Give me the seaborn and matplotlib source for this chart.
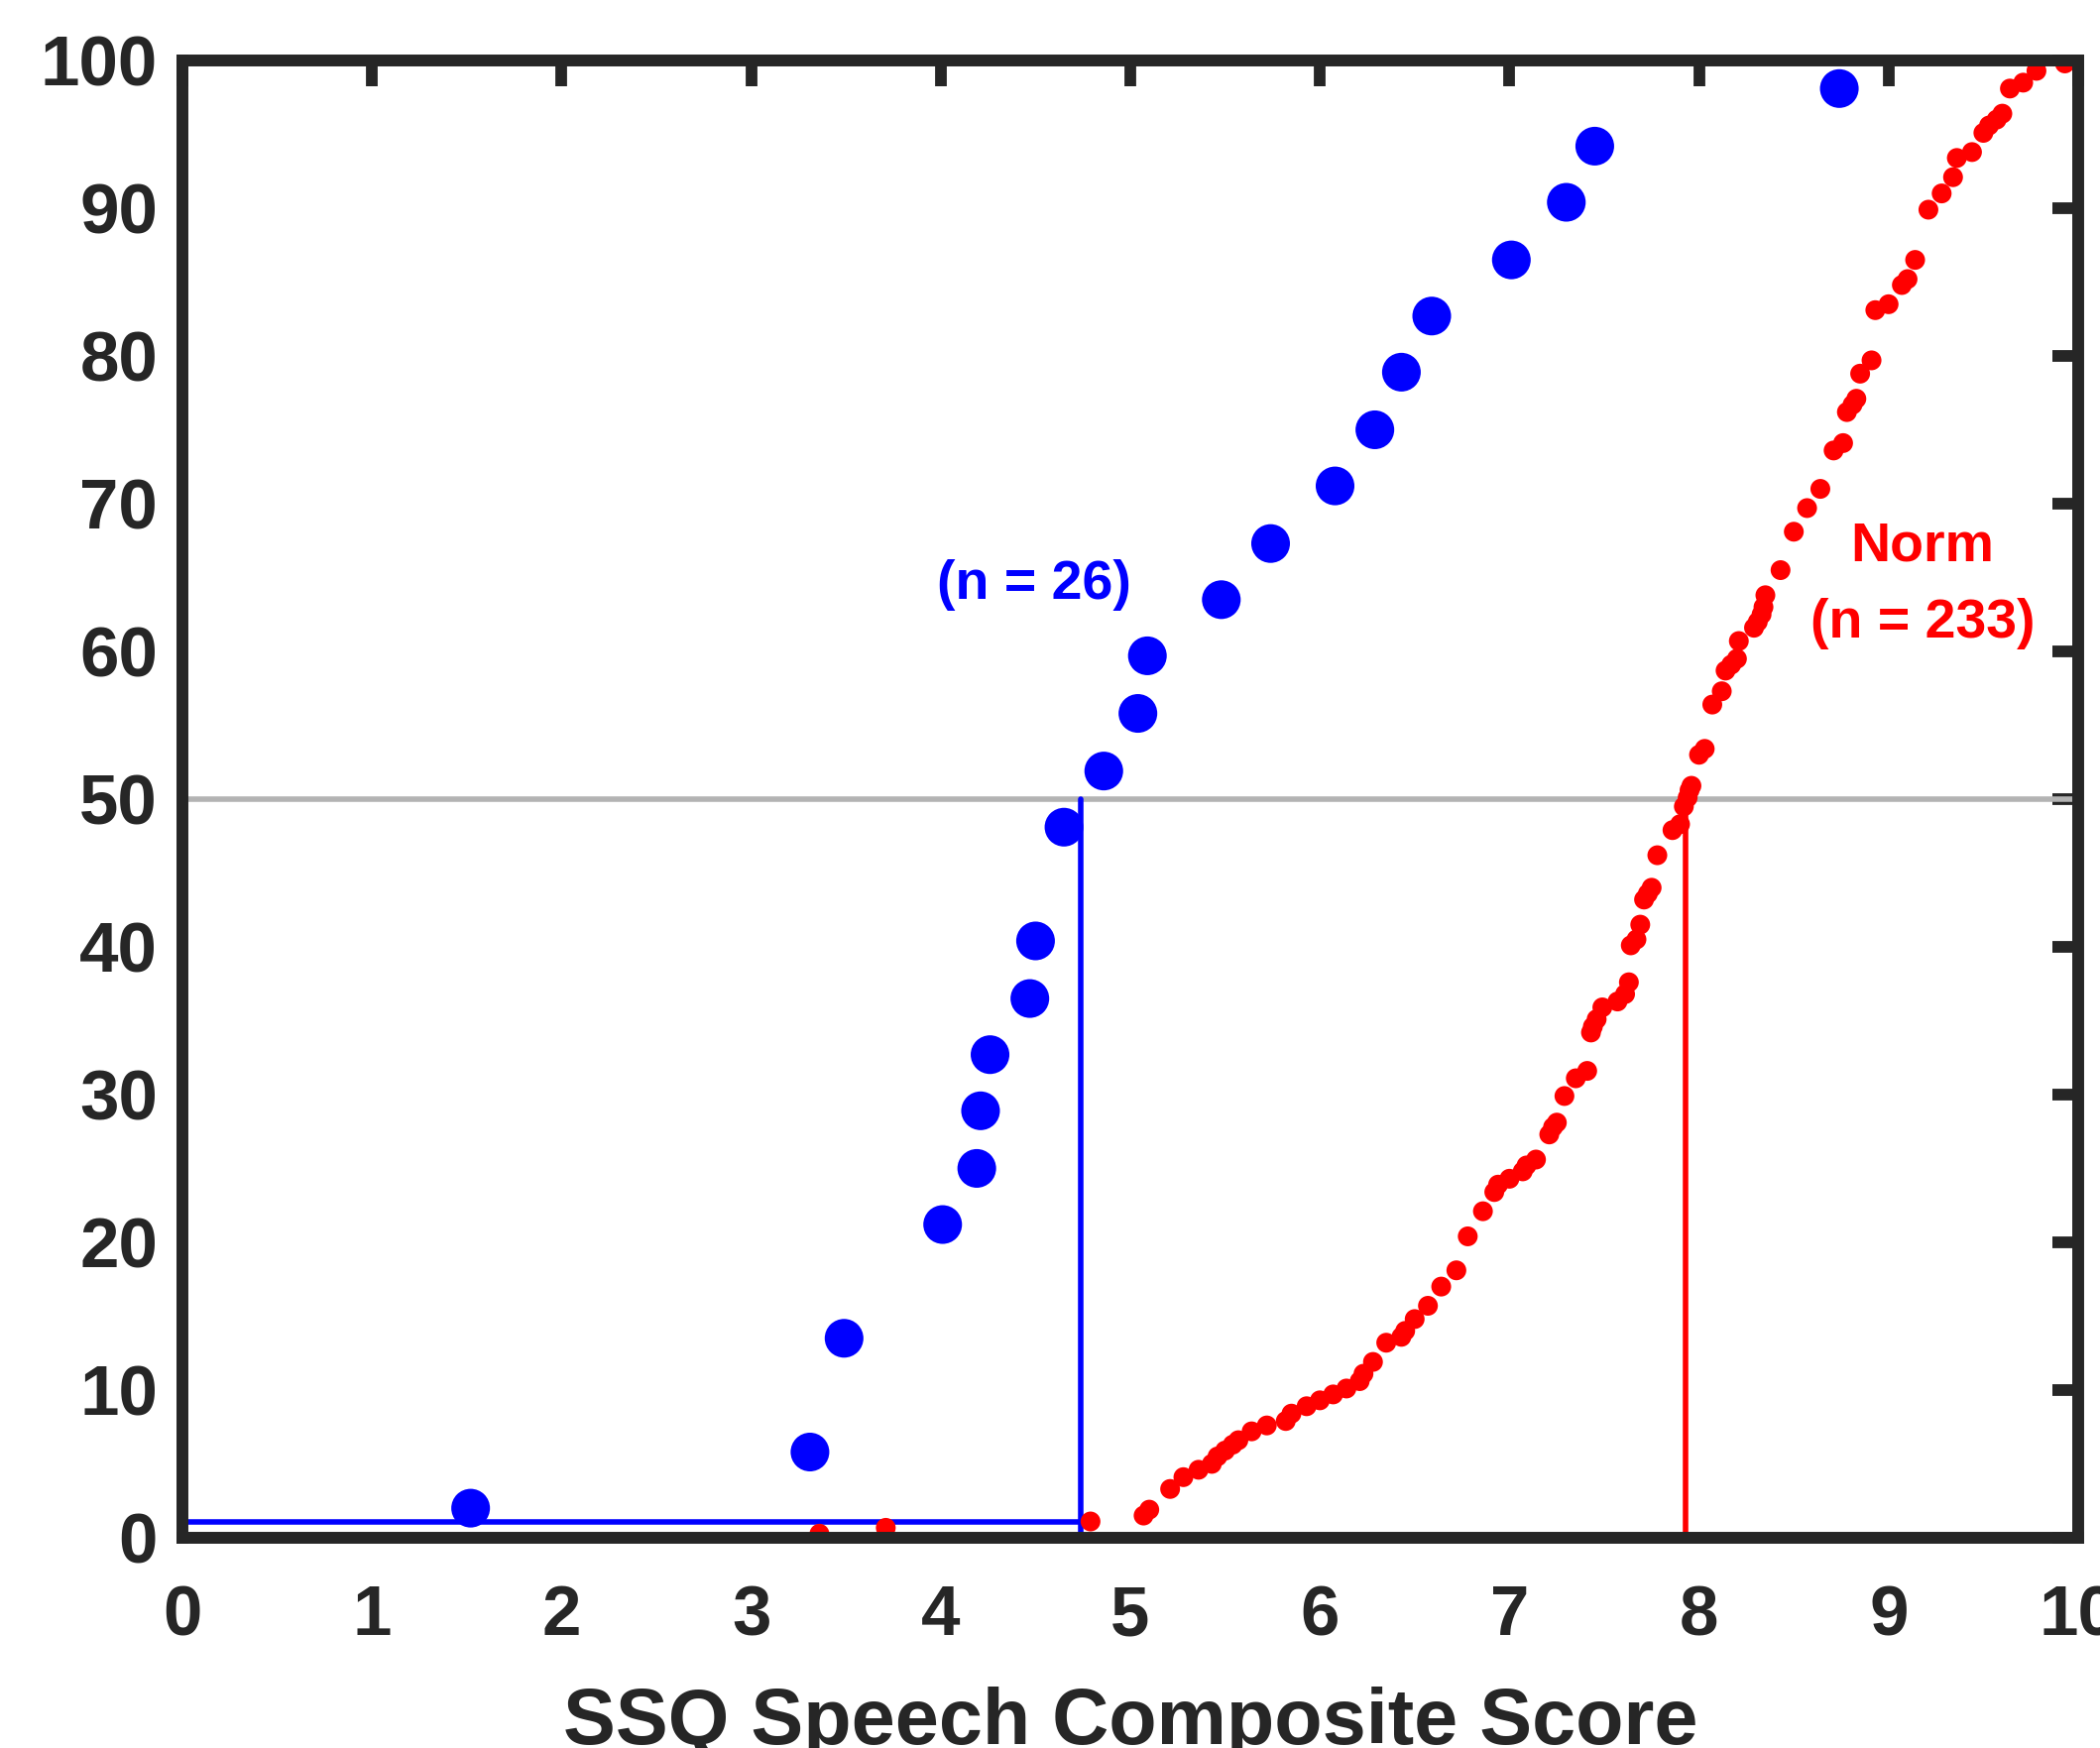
import matplotlib
matplotlib.use("Agg")
import matplotlib.pyplot as plt
import seaborn as sns
import pandas as pd

# SSQ speech scores vs percentile rank
patient_x = [1.52, 3.31, 3.49, 4.01, 4.19, 4.21, 4.26, 4.47, 4.50, 4.65, 4.86, 5.04,
             5.09, 5.48, 5.74, 6.08, 6.29, 6.43, 6.59, 7.01, 7.30, 7.45, 8.74]
patient_y = [2.0, 5.8, 13.5, 21.2, 25.0, 28.9, 32.7, 36.5, 40.4, 48.1, 51.9, 55.8,
             59.7, 63.5, 67.3, 71.2, 75.0, 78.9, 82.7, 86.5, 90.4, 94.2, 98.1]

norm_x = [3.36, 3.71, 4.79, 5.07, 5.10, 5.21, 5.28, 5.36, 5.43, 5.46, 5.50, 5.54,
          5.57, 5.64, 5.72, 5.82, 5.85, 5.93, 6.00, 6.07, 6.14, 6.21, 6.23, 6.28,
          6.35, 6.43, 6.45, 6.50, 6.57, 6.64, 6.72, 6.78, 6.86, 6.92, 6.94, 7.00,
          7.07, 7.09, 7.14, 7.21, 7.23, 7.25, 7.29, 7.35, 7.41, 7.43, 7.44, 7.46,
          7.49, 7.57, 7.61, 7.63, 7.64, 7.67, 7.69, 7.71, 7.73, 7.75, 7.78, 7.86,
          7.90, 7.92, 7.94, 7.95, 7.96, 8.00, 8.03, 8.07, 8.12, 8.14, 8.17, 8.20,
          8.21, 8.29, 8.31, 8.33, 8.34, 8.35, 8.43, 8.50, 8.57, 8.64, 8.71, 8.76,
          8.78, 8.81, 8.83, 8.85, 8.91, 8.93, 9.00, 9.07, 9.10, 9.14, 9.21, 9.28,
          9.34, 9.36, 9.44, 9.50, 9.53, 9.57, 9.60, 9.64, 9.71, 9.78, 9.93]
norm_y = [0.27, 0.67, 1.1, 1.5, 1.9, 3.3, 4.1, 4.6, 5.0, 5.5, 5.9, 6.3,
          6.6, 7.2, 7.6, 7.9, 8.4, 8.9, 9.3, 9.7, 10.1, 10.6, 11.1, 11.9,
          13.2, 13.6, 14.0, 14.8, 15.7, 17.0, 18.1, 20.4, 22.1, 23.4, 23.9, 24.3,
          24.8, 25.2, 25.6, 27.3, 27.8, 28.1, 29.9, 31.1, 31.6, 34.2, 34.6, 35.1,
          35.9, 36.3, 36.8, 37.6, 40.1, 40.5, 41.5, 43.2, 43.6, 44.0, 46.2, 47.9,
          48.3, 49.5, 50.1, 50.6, 50.9, 53.0, 53.4, 56.4, 57.3, 58.7, 59.1, 59.5,
          60.7, 61.6, 62.0, 62.5, 63.0, 63.8, 65.5, 68.1, 69.7, 71.0, 73.6, 74.1,
          76.2, 76.7, 77.1, 78.8, 79.7, 83.1, 83.5, 84.8, 85.2, 86.5, 89.9, 91.0,
          92.1, 93.4, 93.8, 95.1, 95.6, 96.0, 96.4, 98.1, 98.5, 99.3, 99.8]

patient_median = 4.74
norm_median = 7.93
patient_floor = 1.1

x_ticks = list(range(0, 11))
y_ticks = list(range(0, 101, 10))

sns.set_style("white")
plt.rcParams["font.family"] = ["Liberation Sans", "DejaVu Sans"]
plt.rcParams["font.weight"] = "bold"
plt.rcParams["axes.labelweight"] = "bold"

dark = "#262626"

fig = plt.figure(figsize=(21.18, 17.63), dpi=100)
ax = fig.add_axes([0.0869, 0.1203, 0.9027, 0.8451])

df_pat = pd.DataFrame({"score": patient_x, "pct": patient_y})
df_norm = pd.DataFrame({"score": norm_x, "pct": norm_y})

# reference lines
ax.axhline(50, color="#b3b3b3", lw=4, zorder=1)
ax.plot([0, patient_median], [patient_floor, patient_floor], color="#0000ff", lw=4, zorder=1.5)
ax.plot([patient_median, patient_median], [0, 50], color="#0000ff", lw=4, zorder=1.5)
ax.plot([norm_median, norm_median], [0, 50], color="#ff0000", lw=4, zorder=1.5)

sns.scatterplot(data=df_norm, x="score", y="pct", color="#ff0000", s=207,
                edgecolor="none", linewidth=0, ax=ax, zorder=2)
sns.scatterplot(data=df_pat, x="score", y="pct", color="#0000ff", s=790,
                edgecolor="none", linewidth=0, ax=ax, zorder=2)

ax.text(4.49, 64.5, "(n = 26)", color="#0000ff", fontsize=40, fontweight="bold",
        ha="center", va="center")
ax.text(9.18, 67.1, "Norm", color="#ff0000", fontsize=40, fontweight="bold",
        ha="center", va="center")
ax.text(9.18, 61.9, "(n = 233)", color="#ff0000", fontsize=40, fontweight="bold",
        ha="center", va="center")

ax.set_xlim(0, 10)
ax.set_ylim(0, 100)
ax.set_xticks(x_ticks)
ax.set_yticks(y_ticks)
ax.set_xticklabels([str(t) for t in x_ticks])
ax.set_yticklabels([str(t) for t in y_ticks])

for sp in ax.spines.values():
    sp.set_visible(True)
    sp.set_color(dark)
    sp.set_linewidth(8.6)

ax.tick_params(axis="both", direction="in", length=19, width=8.5, color=dark,
               labelcolor=dark, labelsize=51, top=True, right=True)
ax.tick_params(axis="x", pad=34)
ax.tick_params(axis="y", pad=18)

ax.set_xlabel("SSQ Speech Composite Score", fontsize=57, color=dark, fontweight="bold")
ax.set_ylabel("")
ax.xaxis.label.set_va("baseline")
ax.xaxis.set_label_coords(0.5, -0.1396)

fig.savefig("out.png", dpi=100)
